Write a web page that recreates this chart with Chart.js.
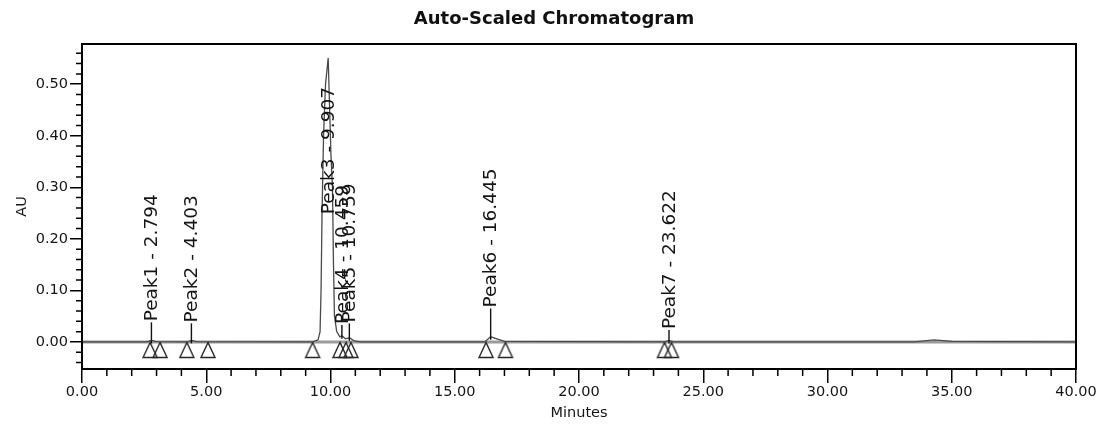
<!DOCTYPE html>
<html>
<head>
<meta charset="utf-8">
<script src="https://cdn.jsdelivr.net/npm/chart.js@4.4.1/dist/chart.umd.min.js"></script>
<style>
  html, body { margin: 0; padding: 0; background: #fff; }
  #wrap { width: 1101px; height: 428px; }
</style>
</head>
<body>
<div id="wrap"><canvas id="chrom" width="1101" height="428"></canvas></div>
<script>
// Detector trace: retention time (min) and absorbance (AU)
const traceMinutes = [0, 2.60, 2.794, 3.00, 4.25, 4.403, 4.60, 9.30, 9.50, 9.58, 9.62, 9.66, 9.72, 9.80, 9.907,
  9.96, 10.02, 10.08, 10.12, 10.16, 10.25, 10.38, 10.459, 10.60, 10.759, 10.95, 11.20, 16.20, 16.445, 17.00,
  23.45, 23.622, 23.80, 33.50, 34.30, 35.00, 40.00];
const traceAU = [0, 0, 0.003, 0.0005, 0, 0.003, 0.0005, 0, 0.004, 0.02, 0.10, 0.25, 0.40, 0.50, 0.551,
  0.46, 0.36, 0.30, 0.15, 0.05, 0.02, 0.010, 0.012, 0.006, 0.008, 0.002, 0, 0, 0.010, 0.001,
  0, 0.003, 0, 0, 0.004, 0.001, 0];

// Integrated peaks
const peakNames = ['Peak1', 'Peak2', 'Peak3', 'Peak4', 'Peak5', 'Peak6', 'Peak7'];
const peakRT = [2.794, 4.403, 9.907, 10.459, 10.759, 16.445, 23.622];
const peakApexAU = [0.003, 0.003, 0.551, 0.012, 0.008, 0.010, 0.003];

// Integration start / end marks (min)
const markerMinutes = [2.74, 3.14, 4.22, 5.07, 9.28, 10.38, 10.62, 10.82, 16.26, 17.04, 23.44, 23.72];

const FONT = 'DejaVu Sans';
const CHART_TITLE = 'Auto-Scaled Chromatogram';

// Hollow triangle hanging below the baseline, used as the integration mark
function makeTriangle() {
  const c = document.createElement('canvas');
  c.width = 18; c.height = 36;
  const g = c.getContext('2d');
  g.strokeStyle = '#262626';
  g.lineWidth = 1.4;
  g.beginPath();
  g.moveTo(9, 18.5);
  g.lineTo(2, 33.5);
  g.lineTo(16, 33.5);
  g.closePath();
  g.stroke();
  return c;
}

const decor = {
  id: 'decor',
  beforeDatasetsDraw(chart) {
    const { ctx, chartArea: a, scales: { y } } = chart;
    const y0 = y.getPixelForValue(0);
    ctx.save();
    ctx.strokeStyle = '#9a9a9a';
    ctx.lineWidth = 3;
    ctx.beginPath();
    ctx.moveTo(a.left, y0);
    ctx.lineTo(a.right, y0);
    ctx.stroke();
    ctx.restore();
  },
  afterDraw(chart, args, opts) {
    const { ctx, chartArea: a, scales: { x, y } } = chart;
    ctx.save();
    // title, centred over the page width less the right margin
    ctx.font = 'bold 18px "' + FONT + '"';
    ctx.fillStyle = '#111';
    ctx.textAlign = 'center';
    ctx.textBaseline = 'middle';
    ctx.fillText(CHART_TITLE, opts.titleX, opts.titleY);
    // frame
    ctx.strokeStyle = '#000';
    ctx.lineWidth = 2;
    ctx.strokeRect(a.left, a.top, a.right - a.left, a.bottom - a.top);
    // minor ticks
    ctx.lineWidth = 1.5;
    ctx.beginPath();
    for (let m = 1; m < 40; m++) {
      if (m % 5 === 0) continue;
      const px = x.getPixelForValue(m);
      ctx.moveTo(px, a.bottom);
      ctx.lineTo(px, a.bottom + 7);
    }
    for (let i = -2; i <= 28; i++) {
      if (i % 5 === 0) continue;
      const py = y.getPixelForValue(i * 0.02);
      if (py < a.top || py > a.bottom) continue;
      ctx.moveTo(a.left - 6, py);
      ctx.lineTo(a.left, py);
    }
    ctx.stroke();
    // peak labels with leader lines
    ctx.font = opts.labelSize + 'px "' + FONT + '"';
    ctx.fillStyle = '#151515';
    ctx.strokeStyle = '#111';
    ctx.lineWidth = 1.4;
    peakNames.forEach((name, i) => {
      const px = x.getPixelForValue(peakRT[i]);
      const apex = y.getPixelForValue(peakApexAU[i]);
      const base = y.getPixelForValue(opts.labelBase[i]);
      if (base < apex - 2) {
        ctx.beginPath();
        ctx.moveTo(px, apex + 3);
        ctx.lineTo(px, base);
        ctx.stroke();
      }
      ctx.save();
      ctx.translate(px, base - 1);
      ctx.rotate(-Math.PI / 2);
      ctx.textAlign = 'left';
      ctx.textBaseline = 'middle';
      ctx.fillText(name + ' - ' + peakRT[i].toFixed(3), 0, 1);
      ctx.restore();
    });
    ctx.restore();
  }
};

const tickFont = { family: FONT, size: 14.5 };

new Chart(document.getElementById('chrom'), {
  type: 'line',
  data: {
    datasets: [
      {
        data: traceMinutes.map((t, i) => ({ x: t, y: traceAU[i] })),
        borderColor: '#4a4a4a',
        borderWidth: 1.3,
        pointRadius: 0,
        tension: 0,
        fill: false
      },
      {
        type: 'scatter',
        data: markerMinutes.map(t => ({ x: t, y: 0 })),
        pointStyle: makeTriangle(),
        pointRadius: 9
      }
    ]
  },
  options: {
    responsive: false,
    animation: false,
    events: [],
    layout: { padding: { left: 0, right: 25, top: 44, bottom: 0 } },
    plugins: {
      legend: { display: false },
      tooltip: { enabled: false },
      title: { display: false },
      decor: {
        titleX: 554,
        titleY: 19,
        labelSize: 18.5,
        labelBase: [0.038, 0.036, 0.246, 0.033, 0.036, 0.065, 0.023]
      }
    },
    scales: {
      x: {
        type: 'linear',
        min: 0,
        max: 40,
        afterFit: s => { s.height = 59; },
        ticks: {
          stepSize: 5,
          autoSkip: false,
          maxRotation: 0,
          padding: 1,
          color: '#151515',
          font: tickFont,
          callback: v => Number(v).toFixed(2)
        },
        grid: { drawOnChartArea: false, drawTicks: true, tickLength: 14, color: '#000', lineWidth: 1.5 },
        border: { display: true, color: '#000', width: 2 },
        title: { display: true, text: 'Minutes', color: '#151515', font: tickFont, padding: { top: 0, bottom: 6 } }
      },
      y: {
        type: 'linear',
        min: -0.0525,
        max: 0.578,
        afterFit: s => { s.width = 82; },
        ticks: {
          stepSize: 0.1,
          includeBounds: false,
          padding: 2,
          color: '#151515',
          font: tickFont,
          callback: v => Number(v).toFixed(2)
        },
        grid: { drawOnChartArea: false, drawTicks: true, tickLength: 12, color: '#000', lineWidth: 1.5 },
        border: { display: true, color: '#000', width: 2 },
        title: { display: true, text: 'AU', color: '#151515', font: tickFont, padding: { top: 14, bottom: 0 } }
      }
    }
  },
  plugins: [decor]
});
</script>
</body>
</html>
